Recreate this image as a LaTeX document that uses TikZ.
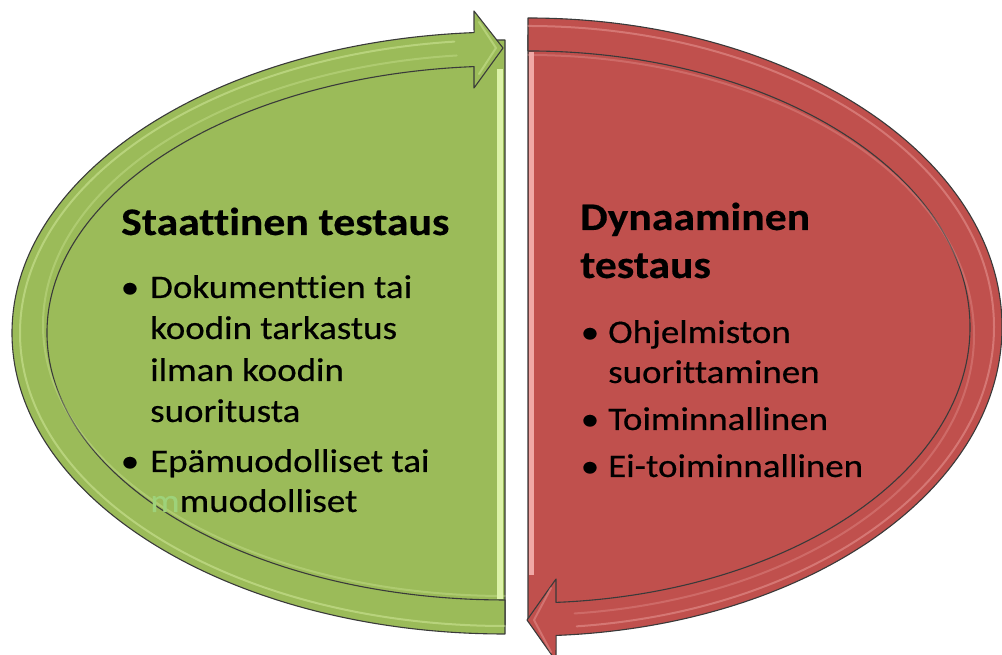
\documentclass[tikz,border=0pt]{standalone}
\usepackage{fontspec}
\setmainfont{Carlito}[FakeStretch=1.12, Ligatures=NoCommon, FakeBold=0.4]
\definecolor{ogreen}{HTML}{9BBB59}
\definecolor{ored}{HTML}{C0504D}
\definecolor{edgecol}{HTML}{3A3A3A}
\definecolor{ghost}{HTML}{9ED27A}
\definecolor{glight}{HTML}{DCF2A8}
\definecolor{rlight}{HTML}{F0A8A5}
\begin{document}
\begin{tikzpicture}[x=1pt,y=1pt,
  shapeline/.style={draw=edgecol, line width=1.1pt, line join=round},
  titletext/.style={anchor=base west, inner sep=0, font=\fontsize{39}{47}\selectfont\bfseries},
  bodytext/.style={anchor=base west, inner sep=0, font=\fontsize{33}{40}\selectfont},
  bulletdot/.style={anchor=base, inner sep=0, font=\fontsize{33}{40}\selectfont},
  glow/.style={line width=2pt, opacity=0.45, line cap=round}]
\useasboundingbox (0,0) rectangle (1002,655);

% ---------- green (left) ----------
\path[shapeline, fill=ogreen] (505,615) arc[start angle=90, end angle=270, x radius=475, y radius=293] -- cycle;
\fill[glight] (497,56) rectangle (503,586);
\path[shapeline, fill=ogreen] (505,21) arc[start angle=270, end angle=93.6, x radius=493, y radius=301]
  -- (474,644) -- (503,607) -- (474,567) -- (474,588.4)
  arc[start angle=93.88, end angle=270, x radius=458, y radius=267] -- cycle;
\draw[glow, glight] (505,29) arc[start angle=270, end angle=96, x radius=485, y radius=293];
\draw[glow, glight, opacity=0.3] (505,59) arc[start angle=270, end angle=96, x radius=462, y radius=271];
\draw[glow, glight, opacity=0.4] (479,633) -- (496,607) -- (479,581);

% ---------- red (right) ----------
\path[shapeline, fill=ored] (528,620) arc[start angle=90, end angle=-90, x radius=458, y radius=292] -- cycle;
\fill[rlight] (529,80) rectangle (534,603);
\path[shapeline, fill=ored] (528,637) arc[start angle=90, end angle=-86.6, x radius=474, y radius=309]
  -- (556,-6) -- (527,35) -- (556,76) -- (556,52.6)
  arc[start angle=-86.37, end angle=90, x radius=442, y radius=276] -- cycle;
\draw[glow, rlight] (528,629) arc[start angle=90, end angle=-84, x radius=466, y radius=301];
\draw[glow, rlight, opacity=0.3] (528,600) arc[start angle=90, end angle=-84, x radius=446, y radius=280];
\draw[glow, rlight, opacity=0.4] (551,67) -- (534,35) -- (551,3);

% ---------- texts ----------
\node[titletext] (st) at (121,420) {Staattinen testaus};
\node[bulletdot] (lb1) at (130,357) {•};
\node[bodytext] (l1) at (150,357) {Dokumenttien tai};
\node[bodytext] (l2) at (150,316) {koodin tarkastus};
\node[bodytext] (l3) at (150,274) {ilman koodin};
\node[bodytext] (l4) at (150,233) {suoritusta};
\node[bulletdot] (lb2) at (130,183) {•};
\node[bodytext] (l5) at (150,183) {Epämuodolliset tai};
\node[bodytext] (l6) at (150,143) {\textcolor{ghost}{m}muodolliset};

\node[titletext] (dt1) at (580,425) {Dynaaminen};
\node[titletext] (dt2) at (580,377) {testaus};
\node[bulletdot] (rb1) at (590,312) {•};
\node[bodytext] (r1) at (608,312) {Ohjelmiston};
\node[bodytext] (r2) at (608,272) {suorittaminen};
\node[bulletdot] (rb2) at (590,225) {•};
\node[bodytext] (r3) at (608,225) {Toiminnallinen};
\node[bulletdot] (rb3) at (590,178) {•};
\node[bodytext] (r4) at (608,178) {Ei-toiminnallinen};
\end{tikzpicture}
\end{document}
